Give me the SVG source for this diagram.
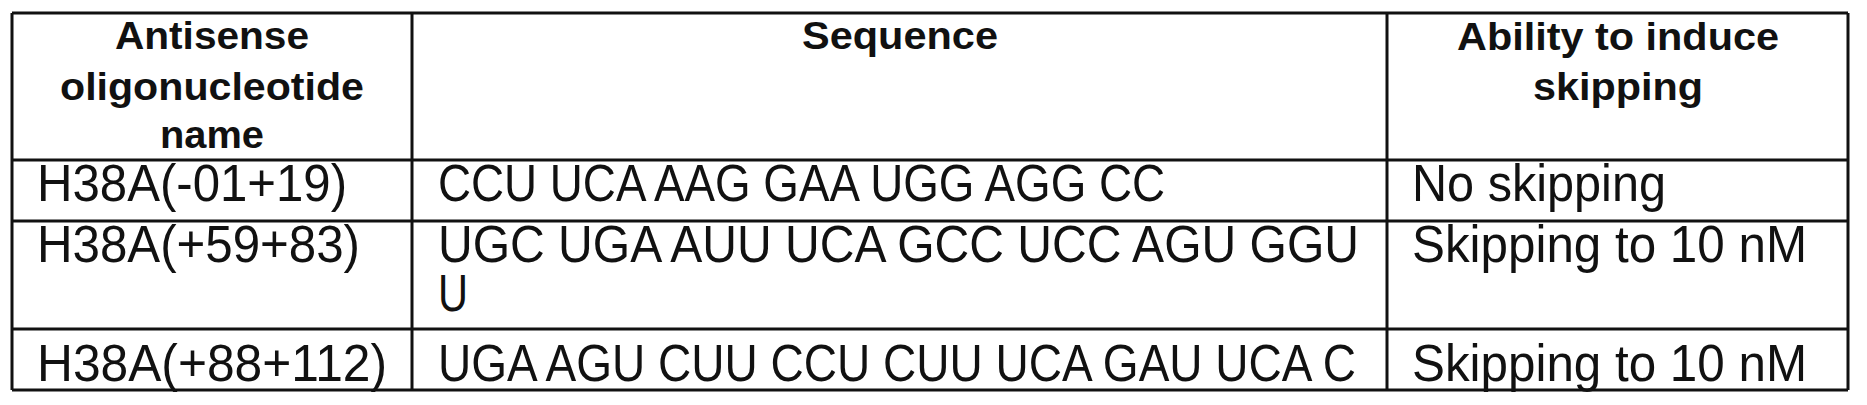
<svg xmlns="http://www.w3.org/2000/svg" width="1867" height="405" viewBox="0 0 1867 405">
<style>
.g line{stroke:#111;stroke-width:3}
text{font-family:"Liberation Sans",Arial,sans-serif;fill:#111}
.h{font-weight:bold;font-size:39px;text-anchor:middle}
.b{font-size:52px}
</style>
<rect width="1867" height="405" fill="#fff"/>
<g class="g" id="grid">
<line x1="12" y1="13" x2="1848" y2="13"/>
<line x1="12" y1="160" x2="1848" y2="160"/>
<line x1="12" y1="221" x2="1848" y2="221"/>
<line x1="12" y1="329" x2="1848" y2="329"/>
<line x1="12" y1="390" x2="1848" y2="390"/>
<line x1="12" y1="13" x2="12" y2="390"/>
<line x1="412" y1="13" x2="412" y2="390"/>
<line x1="1387" y1="13" x2="1387" y2="390"/>
<line x1="1848" y1="13" x2="1848" y2="390"/>
</g>
<g id="header">
<text class="h" x="212" y="49" textLength="194" lengthAdjust="spacingAndGlyphs">Antisense</text>
<text class="h" x="212" y="100" textLength="304" lengthAdjust="spacingAndGlyphs">oligonucleotide</text>
<text class="h" x="212" y="148" textLength="104" lengthAdjust="spacingAndGlyphs">name</text>
<text class="h" x="900" y="49" textLength="196" lengthAdjust="spacingAndGlyphs">Sequence</text>
<text class="h" x="1618" y="50" textLength="322" lengthAdjust="spacingAndGlyphs">Ability to induce</text>
<text class="h" x="1618" y="100" textLength="170" lengthAdjust="spacingAndGlyphs">skipping</text>
</g>
<g id="row1">
<text class="b" x="37" y="201" textLength="310" lengthAdjust="spacingAndGlyphs">H38A(-01+19)</text>
<text class="b" x="438" y="201" textLength="727" lengthAdjust="spacingAndGlyphs">CCU UCA AAG GAA UGG AGG CC</text>
<text class="b" x="1412" y="201" textLength="254" lengthAdjust="spacingAndGlyphs">No skipping</text>
</g>
<g id="row2">
<text class="b" x="37" y="262" textLength="323" lengthAdjust="spacingAndGlyphs">H38A(+59+83)</text>
<text class="b" x="438" y="262" textLength="921" lengthAdjust="spacingAndGlyphs">UGC UGA AUU UCA GCC UCC AGU GGU</text>
<text class="b" x="438" y="311" textLength="30" lengthAdjust="spacingAndGlyphs">U</text>
<text class="b" x="1412" y="262" textLength="395" lengthAdjust="spacingAndGlyphs">Skipping to 10 nM</text>
</g>
<g id="row3">
<text class="b" x="37" y="381" textLength="350" lengthAdjust="spacingAndGlyphs">H38A(+88+112)</text>
<text class="b" x="438" y="381" textLength="918" lengthAdjust="spacingAndGlyphs">UGA AGU CUU CCU CUU UCA GAU UCA C</text>
<text class="b" x="1412" y="381" textLength="395" lengthAdjust="spacingAndGlyphs">Skipping to 10 nM</text>
</g>
</svg>
